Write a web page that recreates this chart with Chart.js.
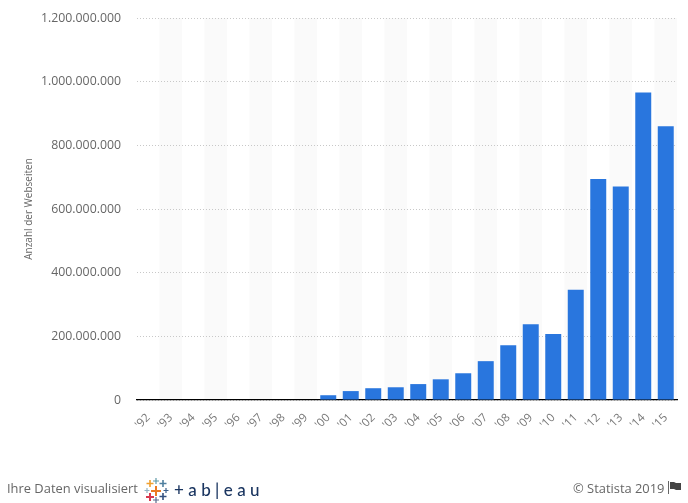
<!DOCTYPE html>
<html lang="de">
<head>
<meta charset="utf-8">
<title>Anzahl der Webseiten</title>
<script src="https://cdn.jsdelivr.net/npm/chart.js@4"></script>
<style>
  html, body { margin: 0; padding: 0; background: #fff; }
  #wrap { position: relative; width: 688px; height: 503px; overflow: hidden; font-family: "Open Sans", sans-serif; color: #666; }
  #myChart { position: absolute; left: 0; top: 0; }
  .foot { position: absolute; font-size: 12.9px; line-height: 16px; white-space: nowrap; }
  #tableauText { position: absolute; left: 174px; top: 479px; font-family: Lato, sans-serif; font-weight: 500; font-size: 17px; line-height: 22px; color: #1a3560; letter-spacing: 4.4px; white-space: nowrap; }
  svg { position: absolute; }
</style>
</head>
<body>
<div id="wrap">
  <canvas id="myChart" width="688" height="503"></canvas>
  <div class="foot" style="left:7px;top:480px">Ihre Daten visualisiert</div>
  <svg style="left:144px;top:478px" width="26" height="25" viewBox="0 0 26 25">
    <path d="M12 8v10M7 13h10" stroke="#eb7a22" stroke-width="2"/>
    <path d="M6 2v7M2.500 5.500h7" stroke="#f0a02e" stroke-width="1.600"/>
    <path d="M12 0v6M9 3h6" stroke="#5f9aa8" stroke-width="1.200"/>
    <path d="M19 2v7M15.500 5.500h7" stroke="#4f7f9f" stroke-width="1.600"/>
    <path d="M3 10v5M0.500 12.500h5" stroke="#8fb4c4" stroke-width="1.200"/>
    <path d="M22 10v5M19.500 12.500h5" stroke="#3c5f8c" stroke-width="1.200"/>
    <path d="M6 15v8M2 19h8" stroke="#d8394f" stroke-width="2"/>
    <path d="M19 15v7M15.500 18.500h7" stroke="#34507f" stroke-width="1.600"/>
    <path d="M12 19v6M9 22h6" stroke="#5a6a8c" stroke-width="1.200"/>
  </svg>
  <div id="tableauText">+ab|eau</div>
  <div class="foot" style="left:573px;top:480px">© Statista 2019</div>
  <svg style="left:668px;top:481px" width="14" height="13" viewBox="0 0 14 13">
    <path d="M0.500 0v13" stroke="#666" stroke-width="1"/>
    <path d="M2 1h4l2 1h5v7H8L6 8H2z" fill="#444"/>
  </svg>
</div>
<script>
const years = ["'92", "'93", "'94", "'95", "'96", "'97", "'98", "'99", "'00", "'01", "'02", "'03",
  "'04", "'05", "'06", "'07", "'08", "'09", "'10", "'11", "'12", "'13", "'14", "'15"];

const websites = [0, 0, 0, 0, 0, 0, 0, 0, 15000000, 28000000, 37000000, 40000000,
  50000000, 65000000, 84000000, 122000000, 172000000, 238000000, 207000000, 346000000,
  694000000, 671000000, 966000000, 860000000];

const yTicks = [0, 200000000, 400000000, 600000000, 800000000, 1000000000, 1200000000];

const yTitle = 'Anzahl der Webseiten';

// light stripe behind every second year
const stripes = {
  id: 'stripes',
  beforeDraw(chart) {
    const { ctx, chartArea, scales } = chart;
    const w = scales.x.getPixelForValue(1) - scales.x.getPixelForValue(0);
    ctx.save();
    ctx.fillStyle = '#fafafa';
    years.forEach((y, i) => {
      if (i % 2 === 1) {
        ctx.fillRect(scales.x.getPixelForValue(i) - w / 2, chartArea.top, w, chartArea.height);
      }
    });
    ctx.restore();
  }
};

const ctx = document.getElementById('myChart').getContext('2d');

new Chart(ctx, {
  type: 'bar',
  data: {
    labels: years,
    datasets: [{
      data: websites,
      backgroundColor: '#2976de',
      barPercentage: 0.71,
      categoryPercentage: 1
    }]
  },
  options: {
    responsive: false,
    animation: false,
    layout: { padding: { top: 18, right: 11, bottom: 63, left: 0 } },
    plugins: { legend: { display: false }, tooltip: { enabled: false } },
    scales: {
      x: {
        offset: true,
        grid: { display: false },
        border: { color: '#000', width: 1.3 },
        afterFit(axis) {
          axis.height = 40;
        },
        ticks: {
          color: '#777',
          font: { family: 'Open Sans', size: 11.5 },
          minRotation: 45,
          maxRotation: 45,
          autoSkip: false,
          padding: 3
        }
      },
      y: {
        min: 0,
        max: 1200000000,
        afterBuildTicks(axis) {
          axis.ticks = yTicks.map(value => ({ value }));
        },
        afterFit(axis) {
          axis.width = 137;
          axis.paddingTop = 0;
          axis.paddingBottom = 0;
        },
        grid: { color: '#c8c8c8', lineWidth: 1, drawTicks: false },
        border: { display: false, dash: [1, 2] },
        title: {
          display: true,
          text: yTitle,
          color: '#666',
          font: { family: 'Open Sans', size: 10 },
          padding: { top: 23, bottom: 0 }
        },
        ticks: {
          color: '#666',
          padding: 16,
          font: { family: 'Open Sans', size: 12.3 },
          callback: value => value.toLocaleString('de-DE')
        }
      }
    }
  },
  plugins: [stripes]
});
</script>
</body>
</html>
